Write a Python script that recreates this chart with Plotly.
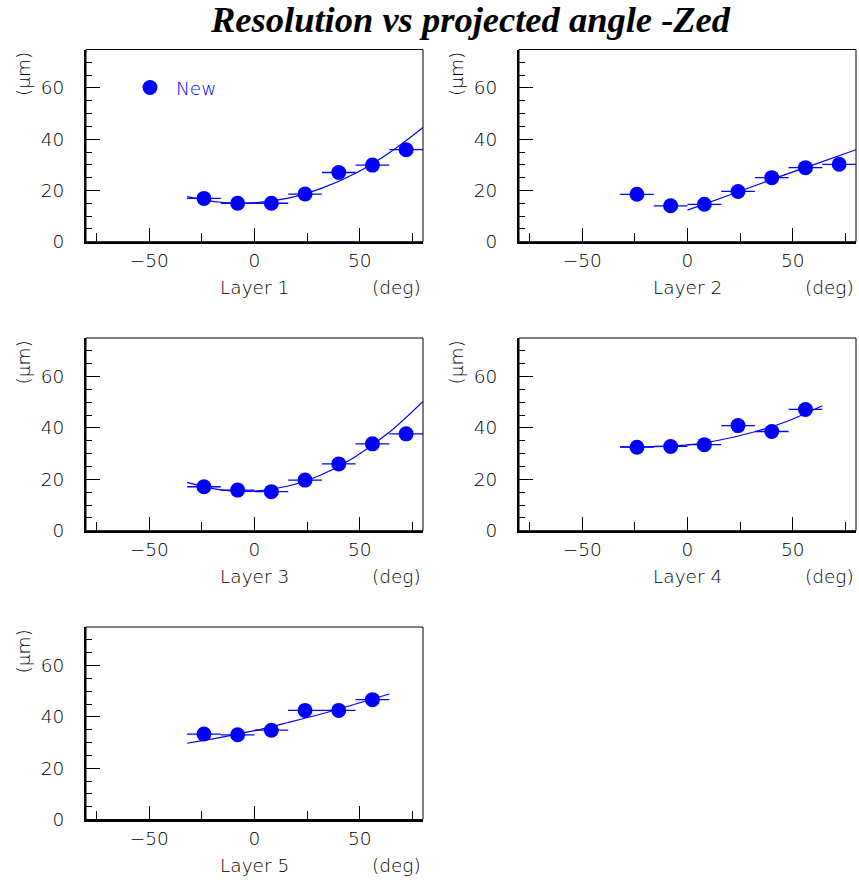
import plotly.graph_objects as go
from plotly.subplots import make_subplots

# ---------------- data ----------------
angles = [-24, -8, 8, 24, 40, 56, 72]
angle_halfwidth = [8, 8, 8, 8, 8, 8, 8]

res_layer1 = [16.9, 15.0, 15.0, 18.6, 27.0, 29.9, 35.9]
res_layer2 = [18.5, 14.0, 14.6, 19.6, 25.0, 28.9, 30.2]
res_layer3 = [17.1, 15.8, 15.2, 19.7, 26.0, 33.8, 37.7]
res_layer4 = [32.5, 32.8, 33.5, 40.9, 38.6, 47.2]
res_layer5 = [33.3, 33.0, 34.8, 42.5, 42.5, 46.7]

fit1_x = [-32, -16, 0, 16, 32, 48, 64, 80]
fit1_y = [17.6, 15.4, 15.2, 17.0, 20.9, 26.7, 34.7, 44.6]
fit2_x = [0, 20, 40, 60, 80]
fit2_y = [12.3, 18.2, 24.3, 30.1, 35.9]
fit3_x = [-32, -16, 0, 16, 32, 48, 64, 80]
fit3_y = [18.8, 15.9, 15.4, 17.4, 21.9, 28.9, 38.3, 50.3]
fit4_x = [-32, -16, 0, 16, 32, 48, 64]
fit4_y = [32.6, 32.7, 33.4, 35.4, 38.5, 42.8, 48.6]
fit5_x = [-32, -16, 0, 16, 32, 48, 64]
fit5_y = [29.7, 32.0, 34.6, 37.8, 41.2, 45.0, 48.9]

layer_names = ["Layer 1", "Layer 2", "Layer 3", "Layer 4", "Layer 5"]
title_text = "Resolution vs projected angle -Zed"
legend_label = "New"
y_unit = "(\u03bcm)"
x_unit = "(deg)"
x_ticks = [-50, 0, 50]
y_ticks = [0, 20, 40, 60]

series = [res_layer1, res_layer2, res_layer3, res_layer4, res_layer5]
fits = [(fit1_x, fit1_y), (fit2_x, fit2_y), (fit3_x, fit3_y), (fit4_x, fit4_y), (fit5_x, fit5_y)]

# ---------------- layout geometry (pixels) ----------------
W, H = 859, 884
col_left = [86, 519]
col_right = [423, 856]
row_top = [49.5, 338, 627]
row_bot = [241.7, 530.7, 819.5]
positions = [(0, 0), (0, 1), (1, 0), (1, 1), (2, 0)]

def px(p):
    return p / W

def py(p):
    return 1 - p / H

BLUE = "#0000ff"
FONT = "DejaVu Sans"
TXT = "#000000"
WT = 200
FS = 18.5

fig = make_subplots(rows=3, cols=2,
                    specs=[[{}, {}], [{}, {}], [{}, None]])

annotations = []
shapes = []
for i, (vals, (fx, fy), name, (r, c)) in enumerate(zip(series, fits, layer_names, positions)):
    n = len(vals)
    fig.add_trace(go.Scatter(x=fx, y=fy, mode="lines", line=dict(color=BLUE, width=1.2, shape="spline"),
                             showlegend=False, hoverinfo="skip"), row=r + 1, col=c + 1)
    fig.add_trace(go.Scatter(x=angles[:n], y=vals, mode="markers",
                             marker=dict(color=BLUE, size=15, line=dict(width=0)),
                             error_x=dict(type="data", array=angle_halfwidth[:n], symmetric=True,
                                          color=BLUE, thickness=1.3, width=0),
                             name=legend_label, showlegend=(i == 0)),
                  row=r + 1, col=c + 1)
    k = "" if i == 0 else str(i + 1)
    fig.layout["xaxis" + k].update(
        domain=[px(col_left[c]), px(col_right[c])], range=[-80, 80],
        tickvals=x_ticks, ticks="inside", ticklen=14, tickwidth=1, tickcolor="black",
        minor=dict(tickvals=[-75, -25, 25, 75], ticks="inside", ticklen=9, tickwidth=1, tickcolor="black"),
        showline=True, linewidth=2, linecolor="black", showgrid=False, zeroline=False,
        tickfont=dict(family=FONT, size=FS, color=TXT, weight=WT), ticklabelstandoff=1,
        anchor="y" + k, automargin=False,
    )
    fig.layout["yaxis" + k].update(
        domain=[py(row_bot[r]), py(row_top[r])], range=[0, 75],
        tickvals=y_ticks, ticks="inside", ticklen=14, tickwidth=1, tickcolor="black",
        minor=dict(dtick=5, tick0=0, ticks="inside", ticklen=6, tickwidth=1, tickcolor="black"),
        showline=True, linewidth=2, linecolor="black", showgrid=False, zeroline=False,
        tickfont=dict(family=FONT, size=FS, color=TXT, weight=WT), ticklabelstandoff=16,
        anchor="x" + k, automargin=False,
    )
    shapes.append(dict(type="rect", xref="x" + k + " domain", yref="y" + k + " domain",
                       x0=0, x1=1, y0=0, y1=1, line=dict(color="black", width=1), layer="above"))
    annotations.append(dict(text=name, xref="x" + k, x=0, yref="paper", y=py(row_bot[r] + 46),
                            xanchor="center", yanchor="middle", showarrow=False,
                            font=dict(family=FONT, size=FS, color=TXT, weight=WT)))
    annotations.append(dict(text=x_unit, xref="paper", x=px(col_right[c]), yref="paper", y=py(row_bot[r] + 46),
                            xanchor="right", yanchor="middle", showarrow=False,
                            font=dict(family=FONT, size=FS, color=TXT, weight=WT)))
    annotations.append(dict(text=y_unit, xref="paper", x=px(col_left[c] - 63), yref="paper", y=py(row_top[r] + 24.5),
                            xanchor="center", yanchor="middle", showarrow=False, textangle=-90,
                            font=dict(family=FONT, size=FS, color=TXT, weight=WT)))

annotations.append(dict(text="<b><i>" + title_text + "</i></b>", xref="paper", x=px(470), yref="paper", y=1,
                        xanchor="center", yanchor="top", showarrow=False, borderpad=0, yshift=2,
                        font=dict(family="Liberation Serif", size=36.5, color="black")))

fig.update_layout(
    width=W, height=H, margin=dict(l=0, r=0, t=0, b=0, pad=0, autoexpand=False),
    plot_bgcolor="white", paper_bgcolor="white",
    legend=dict(x=px(149 - 25), y=py(88), xanchor="left", yanchor="middle",
                font=dict(family=FONT, size=FS, color=BLUE, weight=WT), bgcolor="rgba(0,0,0,0)",
                itemsizing="trace", itemwidth=42),
    annotations=annotations, shapes=shapes,
)

fig.write_html("out.html")
